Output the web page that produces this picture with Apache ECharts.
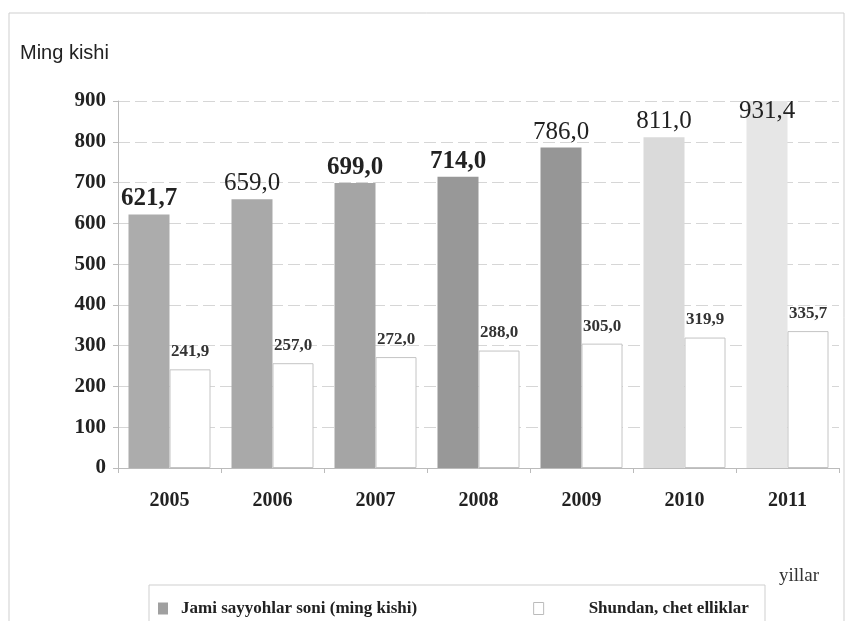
<!DOCTYPE html>
<html>
<head>
<meta charset="utf-8">
<script src="https://cdn.jsdelivr.net/npm/echarts@6/dist/echarts.min.js"></script>
<style>
html,body{margin:0;padding:0;background:#fff;}
#chart{width:847px;height:621px;}
</style>
</head>
<body>
<div id="chart"></div>
<script>
const years = ['2005', '2006', '2007', '2008', '2009', '2010', '2011'];
const totalVisitors = [621.7, 659.0, 699.0, 714.0, 786.0, 811.0, 931.4];
const foreignVisitors = [241.9, 257.0, 272.0, 288.0, 305.0, 319.9, 335.7];
const seriesNames = ['Jami sayyohlar soni (ming kishi)', 'Shundan, chet elliklar'];
const yMin = 0, yMax = 900, yStep = 100;

const totalColors = ['#acacac', '#a9a9a9', '#a5a5a5', '#989898', '#969696', '#dadada', '#e6e6e6'];
const totalBold = [true, false, true, true, false, false, false];

const fmt = v => v.toFixed(1).replace('.', ',');
const serif = '"Liberation Serif", "DejaVu Serif", serif';

const chart = echarts.init(document.getElementById('chart'));
chart.setOption({
  backgroundColor: '#fff',
  animation: false,
  graphic: [
    { type: 'rect', shape: { x: 9, y: 13, width: 835, height: 620 }, style: { fill: 'none', stroke: '#cfcfcf', lineWidth: 1 }, z: -1 },
    { type: 'text', left: 20, top: 43, style: { text: 'Ming kishi', font: '20px "Liberation Sans", Arial, sans-serif', fill: '#222' } },
    { type: 'text', left: 779, top: 567, style: { text: 'yillar', font: '19px ' + serif, fill: '#333' } },
    { type: 'rect', shape: { x: 149, y: 585, width: 616, height: 42 }, style: { fill: 'none', stroke: '#cfcfcf', lineWidth: 1 } }
  ],
  grid: { left: 118, right: 8, top: 101, bottom: 153 },
  legend: {
    left: 153, top: 595,
    itemWidth: 10, itemHeight: 12, itemGap: 116,
    textStyle: { fontFamily: serif, fontWeight: 'bold', fontSize: 17, color: '#222' },
    data: [
      { name: seriesNames[0], icon: 'rect', itemStyle: { color: '#a0a0a0' }, textStyle: { padding: [0, 0, 0, 8] } },
      { name: seriesNames[1], icon: 'rect', itemStyle: { color: '#fff', borderColor: '#bbb', borderWidth: 1 }, textStyle: { padding: [0, 0, 0, 40] } }
    ]
  },
  xAxis: {
    type: 'category',
    data: years,
    axisLine: { lineStyle: { color: '#bbb' } },
    axisTick: { show: true, lineStyle: { color: '#bbb' } },
    axisLabel: { fontFamily: serif, fontWeight: 'bold', fontSize: 20, color: '#222', margin: 23 }
  },
  yAxis: {
    type: 'value',
    min: yMin, max: yMax, interval: yStep,
    axisLine: { show: true, lineStyle: { color: '#bbb' } },
    axisTick: { show: true, lineStyle: { color: '#bbb' } },
    splitLine: { lineStyle: { color: '#d6d6d6', type: [12, 5] } },
    axisLabel: { fontFamily: serif, fontWeight: 'bold', fontSize: 21, color: '#222', margin: 12 }
  },
  series: [
    {
      name: seriesNames[0],
      type: 'bar',
      barWidth: 41,
      barGap: '0%',
      clip: true,
      data: totalVisitors.map((v, i) => ({
        value: v,
        itemStyle: { color: totalColors[i] },
        label: i === totalVisitors.length - 1
          ? { fontWeight: totalBold[i] ? 'bold' : 'normal', offset: [0, 26] }
          : { fontWeight: totalBold[i] ? 'bold' : 'normal' }
      })),
      itemStyle: { color: '#a8a8a8' },
      label: {
        show: true, position: 'top', distance: 3,
        fontFamily: serif, fontSize: 25, color: '#222',
        formatter: p => fmt(p.value)
      }
    },
    {
      name: seriesNames[1],
      type: 'bar',
      barWidth: 41,
      data: foreignVisitors,
      itemStyle: { color: '#ffffff', borderColor: '#c4c4c4', borderWidth: 1 },
      label: {
        show: true, position: 'top', distance: 9,
        fontFamily: serif, fontWeight: 'bold', fontSize: 17, color: '#333',
        formatter: p => fmt(p.value)
      }
    }
  ]
});
</script>
</body>
</html>
